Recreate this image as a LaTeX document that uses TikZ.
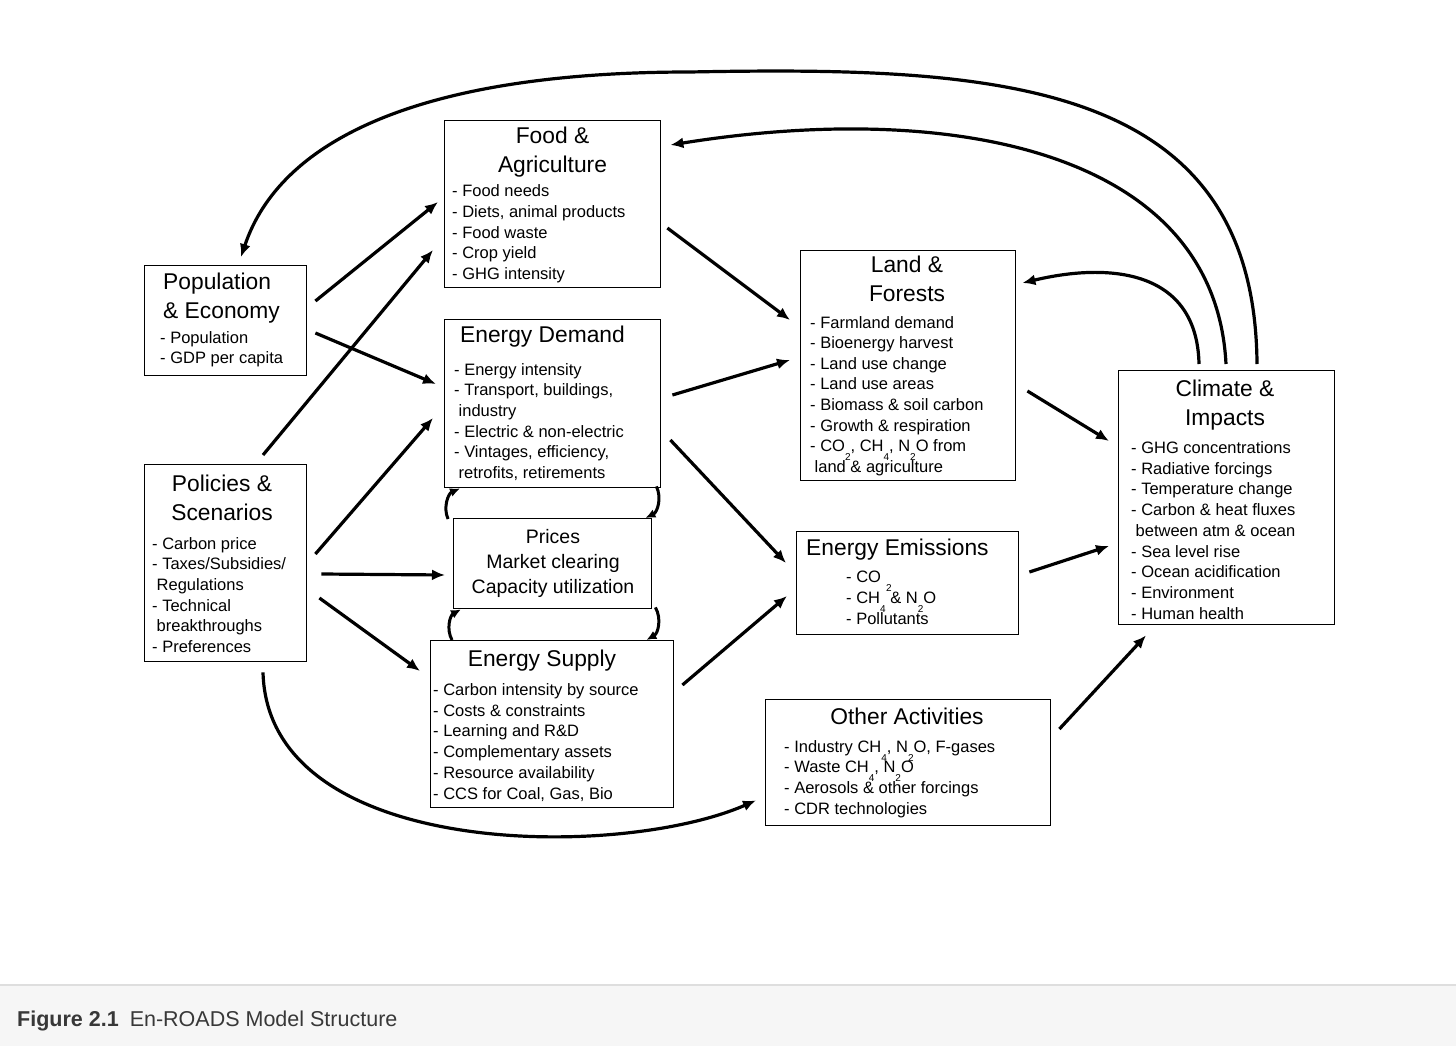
\documentclass[tikz,border=0pt]{standalone}
\usepackage{fontspec}
\setmainfont{Liberation Sans}
\usetikzlibrary{arrows.meta}
\definecolor{capbg}{HTML}{F6F6F6}
\definecolor{capline}{HTML}{DEDEDE}
\definecolor{captext}{HTML}{383838}
\newcommand\dsub[1]{\raisebox{-9pt}{\fontsize{10}{10}\selectfont #1}}
\begin{document}
\begin{tikzpicture}[x=1pt,y=1pt,
  box/.style={draw=black, line width=1.4pt, anchor=north west, inner sep=0pt},
  ttl/.style={font=\fontsize{22.8}{29}\selectfont, inner sep=0pt, anchor=base},
  ttlw/.style={ttl, anchor=base west},
  itm/.style={font=\fontsize{16.5}{20.7}\selectfont, inner sep=0pt, anchor=base west},
  prc/.style={font=\fontsize{19.5}{25}\selectfont, inner sep=0pt, anchor=base},
  arr/.style={line width=3.2pt, -{Latex[length=13pt,width=11pt]}},
  sarr/.style={line width=3pt, -{Latex[length=10pt,width=9pt]}},
]
\fill[white] (0,0) rectangle (1456,-1046);
\useasboundingbox (0,0) rectangle (1456,-1046);

% caption bar
\fill[capbg] (0,-985) rectangle (1456,-1046);
\draw[capline, line width=2pt] (0,-985) -- (1456,-985);
\node[anchor=base west, inner sep=0pt, font=\fontsize{21.5}{25}\selectfont, text=captext] (cap) at (17,-1026) {\textbf{Figure 2.1}\hspace{11pt}En-ROADS Model Structure};

% boxes
\node[box, minimum width=216pt, minimum height=167pt] (food) at (444,-120) {};
\node[box, minimum width=162pt, minimum height=110pt] (pop) at (144,-265) {};
\node[box, minimum width=162pt, minimum height=197pt] (pol) at (144,-464) {};
\node[box, minimum width=216pt, minimum height=168pt] (dem) at (444,-319) {};
\node[box, minimum width=198pt, minimum height=90pt] (pri) at (453,-518) {};
\node[box, minimum width=243pt, minimum height=167pt] (sup) at (430,-640) {};
\node[box, minimum width=215pt, minimum height=230pt] (land) at (800,-250) {};
\node[box, minimum width=222pt, minimum height=103pt] (emi) at (796,-531) {};
\node[box, minimum width=285pt, minimum height=126pt] (oth) at (765,-699) {};
\node[box, minimum width=216pt, minimum height=254pt] (clim) at (1118,-370) {};

% Food & Agriculture
\node[ttl] (food-t1) at (552.5,-143.5) {Food \&};
\node[ttl] (food-t2) at (552.5,-172.5) {Agriculture};
\foreach \t [count=\i from 0] in {{- Food needs},{- Diets, animal products},{- Food waste},{- Crop yield},{- GHG intensity}}
  \node[itm] (food-\i) at (452,-196.7-20.7*\i) {\t};

% Population & Economy
\node[ttlw] (pop-t1) at (163,-289) {Population};
\node[ttlw] (pop-t2) at (163,-318) {\& Economy};
\foreach \t [count=\i from 0] in {{- Population},{- GDP per capita}}
  \node[itm] (pop-\i) at (160,-343-20.7*\i) {\t};

% Policies & Scenarios
\node[ttl] (pol-t1) at (222,-491) {Policies \&};
\node[ttl] (pol-t2) at (222,-520) {Scenarios};
\foreach \t [count=\i from 0] in {{- Carbon price},{- Taxes/Subsidies/},{\hspace*{4.5pt}Regulations},{- Technical},{\hspace*{4.5pt}breakthroughs},{- Preferences}}
  \node[itm] (pol-\i) at (152,-549-20.7*\i) {\t};

% Energy Demand
\node[ttl] (dem-t1) at (542.5,-342) {Energy Demand};
\foreach \t [count=\i from 0] in {{- Energy intensity},{- Transport, buildings,},{\hspace*{4.5pt}industry},{- Electric \& non-electric},{- Vintages, efficiency,},{\hspace*{4.5pt}retrofits, retirements}}
  \node[itm] (dem-\i) at (454,-375-20.7*\i) {\t};

% Prices
\node[prc] (pri-1) at (553,-543) {Prices};
\node[prc] (pri-2) at (553,-568) {Market clearing};
\node[prc] (pri-3) at (553,-593) {Capacity utilization};

% Energy Supply
\node[ttl] (sup-t1) at (542,-666) {Energy Supply};
\foreach \t [count=\i from 0] in {{- Carbon intensity by source},{- Costs \& constraints},{- Learning and R\&D},{- Complementary assets},{- Resource availability},{- CCS for Coal, Gas, Bio}}
  \node[itm] (sup-\i) at (433,-695.5-20.7*\i) {\t};

% Land & Forests
\node[ttl] (land-t1) at (907,-272.5) {Land \&};
\node[ttl] (land-t2) at (907,-301.5) {Forests};
\foreach \t [count=\i from 0] in {{- Farmland demand},{- Bioenergy harvest},{- Land use change},{- Land use areas},{- Biomass \& soil carbon},{- Growth \& respiration},{- CO\dsub{2}, CH\dsub{4}, N\dsub{2}O from},{\hspace*{4.5pt}land \& agriculture}}
  \node[itm] (land-\i) at (810,-328-20.6*\i) {\t};

% Energy Emissions
\node[ttlw] (emi-t1) at (806,-555) {Energy Emissions};
\foreach \t [count=\i from 0] in {{- CO\hspace{5pt}\dsub{2}},{- CH\dsub{4} \& N\dsub{2}O},{- Pollutants}}
  \node[itm] (emi-\i) at (846,-582-21*\i) {\t};

% Other Activities
\node[ttl] (oth-t1) at (907,-724.5) {Other Activities};
\foreach \t [count=\i from 0] in {{- Industry CH\dsub{4}, N\dsub{2}O, F-gases},{- Waste CH\dsub{4}, N\dsub{2}O},{- Aerosols \& other forcings},{- CDR technologies}}
  \node[itm] (oth-\i) at (784,-752-20.7*\i) {\t};

% Climate & Impacts
\node[ttl] (clim-t1) at (1225,-396.5) {Climate \&};
\node[ttl] (clim-t2) at (1225,-425.5) {Impacts};
\foreach \t [count=\i from 0] in {{- GHG concentrations},{- Radiative forcings},{- Temperature change},{- Carbon \& heat fluxes},{\hspace*{4.5pt}between atm \& ocean},{- Sea level rise},{- Ocean acidification},{- Environment},{- Human health}}
  \node[itm] (clim-\i) at (1131,-453.5-20.7*\i) {\t};

% straight connectors
\draw[arr] ([shift={(8,-36)}]pop.north east) -- ([shift={(-6,-82)}]food.north west);
\draw[arr] ([shift={(8,-68)}]pop.north east) -- ([shift={(-8,-65)}]dem.north west);
\draw[arr] ([shift={(119,9)}]pol.north west) -- ([shift={(-11,-130)}]food.north west);
\draw[arr] ([shift={(8,-90)}]pol.north east) -- ([shift={(-11,-99)}]dem.north west);
\draw[arr] ([shift={(14,-110)}]pol.north east) -- ([shift={(-8,-57)}]pri.north west);
\draw[arr] ([shift={(12,-134)}]pol.north east) -- ([shift={(-10,-31)}]sup.north west);
\draw[arr] ([shift={(6,-108)}]food.north east) -- ([shift={(-10,-70)}]land.north west);
\draw[arr] ([shift={(11,-76)}]dem.north east) -- ([shift={(-10,-110)}]land.north west);
\draw[arr] ([shift={(9,-121)}]dem.north east) -- ([shift={(-10,-32)}]emi.north west);
\draw[arr] ([shift={(8,-45)}]sup.north east) -- ([shift={(-9,-65)}]emi.north west);
\draw[arr] ([shift={(11,-141)}]land.north east) -- ([shift={(-9,-71)}]clim.north west);
\draw[arr] ([shift={(10,-41)}]emi.north east) -- ([shift={(-9,-176)}]clim.north west);
\draw[arr] ([shift={(8,-30)}]oth.north east) -- ([shift={(28,-10)}]clim.south west);

% curved connectors
\draw[arr] ([shift={(119,-10)}]pol.south west) .. controls (268,-860) and (620,-860) .. ([shift={(-9,26)}]oth.south west);
\draw[arr] ([shift={(81,6)}]clim.north west) .. controls (1197,-270) and (1110,-262) .. ([shift={(6,-33)}]land.north east);
\draw[arr] ([shift={(108,6)}]clim.north west) .. controls (1215,-150) and (950,-100) .. ([shift={(9,-25)}]food.north east);
\draw[arr] ([shift={(139,6)}]clim.north west) .. controls (1255,-80) and (1000,-66) .. (690,-72) .. controls (420,-72) and (280,-140) .. ([shift={(97,8)}]pop.north west);

% small loops around Prices
\draw[sarr] ([shift={(-5,-1)}]pri.north west) to[bend left=45] ([shift={(16,0)}]dem.south west);
\draw[sarr] ([shift={(-5,2)}]dem.south east) to[bend left=45] ([shift={(-7,0)}]pri.north east);
\draw[sarr] ([shift={(22,0)}]sup.north west) to[bend left=45] ([shift={(8,0)}]pri.south west);
\draw[sarr] ([shift={(3,2)}]pri.south east) to[bend left=45] ([shift={(-28,0)}]sup.north east);
\end{tikzpicture}
\end{document}
